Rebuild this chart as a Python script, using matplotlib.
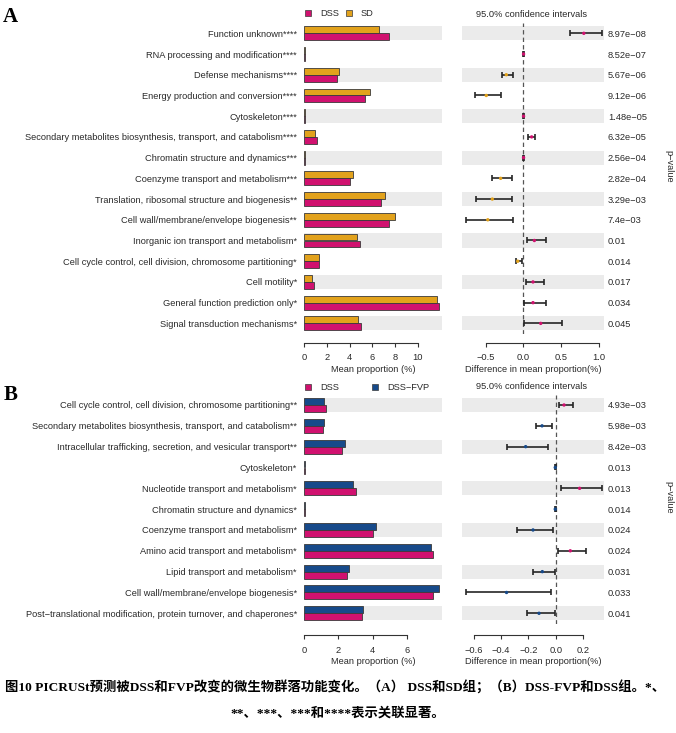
import matplotlib
matplotlib.use('Agg')
import matplotlib.pyplot as plt
from matplotlib.patches import Patch

W, H, DPI = 676, 733, 100

# ---------------- data: panel A (DSS vs SD) ----------------
a_names = ["Function unknown", "RNA processing and modification", "Defense mechanisms",
           "Energy production and conversion", "Cytoskeleton",
           "Secondary metabolites biosynthesis, transport, and catabolism",
           "Chromatin structure and dynamics", "Coenzyme transport and metabolism",
           "Translation, ribosomal structure and biogenesis",
           "Cell wall/membrane/envelope biogenesis", "Inorganic ion transport and metabolism",
           "Cell cycle control, cell division, chromosome partitioning", "Cell motility",
           "General function prediction only", "Signal transduction mechanisms"]
a_stars = ["****", "****", "****", "****", "****", "****", "***", "***", "**", "**",
           "*", "*", "*", "*", "*"]
a_dss = [7.44, 0.05, 2.86, 5.33, 0.04, 1.09, 0.03, 4.03, 6.74, 7.50, 4.88, 1.27, 0.86, 11.85, 4.97]
a_sd = [6.61, 0.04, 3.03, 5.79, 0.03, 0.97, 0.02, 4.32, 7.12, 7.97, 4.68, 1.32, 0.65, 11.67, 4.74]
a_diff = [0.80, 0.003, -0.225, -0.49, 0.003, 0.11, 0.003, -0.30, -0.41, -0.47, 0.146, -0.074,
          0.128, 0.128, 0.23]
a_low = [0.618, -0.004, -0.278, -0.643, -0.004, 0.062, -0.004, -0.42, -0.63, -0.76, 0.049,
         -0.10, 0.032, 0.009, 0.005]
a_high = [1.04, 0.010, -0.136, -0.30, 0.010, 0.16, 0.010, -0.145, -0.145, -0.136, 0.30,
          -0.013, 0.28, 0.30, 0.516]
a_p = ["8.97e−08", "8.52e−07", "5.67e−06", "9.12e−06", "1.48e−05", "6.32e−05", "2.56e−04",
       "2.82e−04", "3.29e−03", "7.4e−03", "0.01", "0.014", "0.017", "0.034", "0.045"]

# ---------------- data: panel B (DSS vs DSS-FVP) ----------------
b_names = ["Cell cycle control, cell division, chromosome partitioning",
           "Secondary metabolites biosynthesis, transport, and catabolism",
           "Intracellular trafficking, secretion, and vesicular transport", "Cytoskeleton",
           "Nucleotide transport and metabolism", "Chromatin structure and dynamics",
           "Coenzyme transport and metabolism", "Amino acid transport and metabolism",
           "Lipid transport and metabolism", "Cell wall/membrane/envelope biogenesis",
           "Post−translational modification, protein turnover, and chaperones"]
b_stars = ["**", "**", "**", "*", "*", "*", "*", "*", "*", "*", "*"]
b_dss = [1.25, 1.08, 2.19, 0.03, 3.05, 0.03, 4.04, 7.56, 2.50, 7.54, 3.36]
b_fvp = [1.17, 1.15, 2.40, 0.04, 2.87, 0.04, 4.20, 7.42, 2.60, 7.87, 3.46]
b_diff = [0.061, -0.10, -0.22, -0.003, 0.175, -0.003, -0.166, 0.107, -0.098, -0.36, -0.122]
b_low = [0.024, -0.146, -0.356, -0.008, 0.039, -0.008, -0.28, 0.017, -0.164, -0.66, -0.208]
b_high = [0.124, -0.029, -0.059, 0.002, 0.336, 0.002, -0.022, 0.222, -0.007, -0.037, -0.005]
b_p = ["4.93e−03", "5.98e−03", "8.42e−03", "0.013", "0.013", "0.014", "0.024", "0.024",
       "0.031", "0.033", "0.041"]

PINK = '#D0116F'
GOLD = '#E2A21C'
BLUE = '#174A8A'
BAND = '#EBEBEB'
TXT = '#2a2a2a'
FS = 6.7
SANS = ['Liberation Sans', 'DejaVu Sans']

plt.rcParams['font.family'] = SANS
plt.rcParams['axes.unicode_minus'] = True

fig = plt.figure(figsize=(W / DPI, H / DPI), dpi=DPI)


def add_ax(x0, x1, ytop, ybot):
    return fig.add_axes([x0 / W, 1 - ybot / H, (x1 - x0) / W, (ybot - ytop) / H])


def style_axis(ax, bounds, ticks, outward_px, xlabel):
    for s in ['top', 'right', 'left']:
        ax.spines[s].set_visible(False)
    ax.spines['bottom'].set_bounds(*bounds)
    ax.spines['bottom'].set_position(('outward', outward_px * 72 / DPI))
    ax.spines['bottom'].set_color('#333333')
    ax.spines['bottom'].set_linewidth(0.8)
    ax.set_xticks(ticks)
    ax.tick_params(axis='x', length=3.2, width=0.8, color='#333333', labelsize=FS,
                   labelcolor=TXT, pad=4.5)
    ax.set_xlabel(xlabel, fontsize=FS, color=TXT, labelpad=1.5)


def panel(top_px, row_px, names, stars, g1, g2, c1, c2, diff, low, high, pvals,
          bar_xmax, bar_bounds, bar_ticks, ci_xlim, ci_bounds, ci_ticks, outward):
    n = len(names)
    ytop = top_px - row_px / 2
    ybot = top_px + row_px * (n - 0.5)
    rows = list(range(n))
    # --- bar axes ---
    ax = add_ax(304.3, 442.3, ytop, ybot)
    ax.set_xlim(0, bar_xmax)
    ax.set_ylim(n - 0.5, -0.5)
    for i in rows:
        if i % 2 == 0:
            ax.axhspan(i - 0.34, i + 0.34, color=BAND, zorder=0, lw=0)
    ax.barh([i - 0.168 for i in rows], g2, height=0.335, color=c2, edgecolor='#3a3a3a',
            linewidth=0.6, zorder=2)
    ax.barh([i + 0.168 for i in rows], g1, height=0.335, color=c1, edgecolor='#3a3a3a',
            linewidth=0.6, zorder=2)
    ax.set_yticks(rows)
    ax.set_yticklabels([a + b for a, b in zip(names, stars)], fontsize=FS, color=TXT)
    ax.tick_params(axis='y', length=0, pad=5.3)
    style_axis(ax, bar_bounds, bar_ticks, outward, 'Mean proportion (%)')

    # --- CI axes ---
    cx = add_ax(462.3, 604.3, ytop, ybot)
    cx.set_xlim(*ci_xlim)
    cx.set_ylim(n - 0.5, -0.5)
    for i in rows:
        if i % 2 == 0:
            cx.axhspan(i - 0.34, i + 0.34, color=BAND, zorder=0, lw=0)
    cx.axvline(0, ls=(0, (3.5, 2.5)), color='#555555', lw=0.9, zorder=1)
    xerr = [[d - l for d, l in zip(diff, low)], [h - d for d, h in zip(diff, high)]]
    cx.errorbar(diff, rows, xerr=xerr, fmt='none', ecolor='#262626', elinewidth=1.2,
                capsize=2.5, capthick=1.2, zorder=2)
    cols = [c1 if d > 0 else c2 for d in diff]
    cx.scatter(diff, rows, c=cols, s=6, zorder=3, linewidths=0)
    cx.set_yticks([])
    style_axis(cx, ci_bounds, ci_ticks, outward, 'Difference in mean proportion(%)')
    # p-values on right
    px = cx.twinx()
    px.set_ylim(n - 0.5, -0.5)
    px.set_yticks(rows)
    px.set_yticklabels(pvals, fontsize=FS, color=TXT)
    px.tick_params(axis='y', length=0, pad=2.5)
    for s in px.spines.values():
        s.set_visible(False)
    fig.text(531.7 / W, 1 - (ytop - 8.0) / H, '95.0% confidence intervals', fontsize=FS,
             color=TXT, ha='center', va='center')
    return ytop, ybot


# Panel A
panel(33.3, 20.72, a_names, a_stars, a_dss, a_sd, PINK, GOLD, a_diff, a_low,
      a_high, a_p, 12.17, (0, 10), [0, 2, 4, 6, 8, 10], (-0.807, 1.071),
      (-0.5, 1.0), [-0.5, 0.0, 0.5, 1.0], 9.0)
# Panel B
panel(405.0, 20.83, b_names, b_stars, b_dss, b_fvp, PINK, BLUE, b_diff, b_low,
      b_high, b_p, 8.08, (0, 6), [0, 2, 4, 6], (-0.684, 0.356),
      (-0.6, 0.2), [-0.6, -0.4, -0.2, 0.0, 0.2], 11.3)

# p-value labels
fig.text(669 / W, 1 - 166 / H, 'p−value', rotation=270, fontsize=FS, color=TXT,
         ha='center', va='center')
fig.text(669 / W, 1 - 497 / H, 'p−value', rotation=270, fontsize=FS, color=TXT,
         ha='center', va='center')

# legends
def make_legend(labels, colors, y_px, colsp):
    handles = [Patch(facecolor=c, edgecolor='#3a3a3a', lw=0.5, label=l)
               for l, c in zip(labels, colors)]
    leg = fig.legend(handles=handles, loc='center left', bbox_to_anchor=(305 / W, 1 - y_px / H),
                     ncol=len(labels), frameon=False, fontsize=FS, handlelength=0.66,
                     handleheight=0.66, handletextpad=0.95, columnspacing=colsp,
                     borderpad=0, borderaxespad=0)
    for t in leg.get_texts():
        t.set_color(TXT)
    return leg


make_legend(['DSS', 'SD'], [PINK, GOLD], 14, 0.75)
make_legend(['DSS', 'DSS−FVP'], [PINK, BLUE], 388, 3.6)

# panel letters
fig.text(2.5 / W, 1 - 17.5 / H, 'A', fontsize=15, fontweight='bold',
         family=['Liberation Serif', 'DejaVu Serif'], ha='left', va='center')
fig.text(3.5 / W, 1 - 395 / H, 'B', fontsize=15, fontweight='bold',
         family=['Liberation Serif', 'DejaVu Serif'], ha='left', va='center')

# caption
CAP = ['Liberation Serif', 'Noto Sans CJK SC']
fig.text(335 / W, 1 - 688 / H,
         '图10 PICRUSt预测被DSS和FVP改变的微生物群落功能变化。（A） DSS和SD组；（B）DSS-FVP和DSS组。*、',
         fontsize=9.6, fontweight='bold', family=CAP, ha='center', va='center')
fig.text(338 / W, 1 - 713 / H, '**、***、***和****表示关联显著。',
         fontsize=9.6, fontweight='bold', family=CAP, ha='center', va='center')

fig.savefig('out.png', dpi=DPI)
